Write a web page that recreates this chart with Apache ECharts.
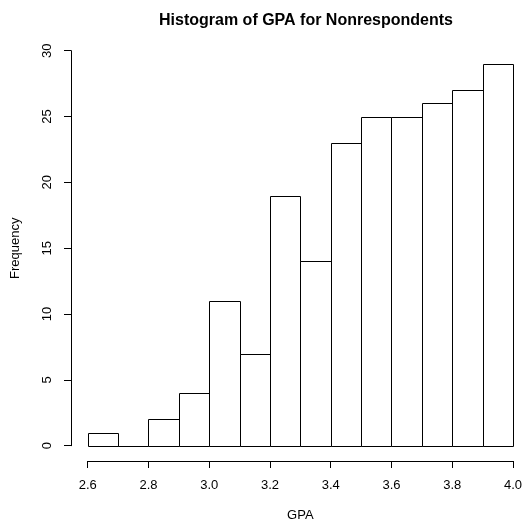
<!DOCTYPE html>
<html><head><meta charset="utf-8">
<script src="https://cdn.jsdelivr.net/npm/echarts@6/dist/echarts.min.js"></script>
<style>html,body{margin:0;padding:0;background:#fff}#c{width:525px;height:527px}</style>
</head><body><div id="c"></div>
<script>
var binStarts = [2.6, 2.7, 2.8, 2.9, 3.0, 3.1, 3.2, 3.3, 3.4, 3.5, 3.6, 3.7, 3.8, 3.9];
var binEnds   = [2.7, 2.8, 2.9, 3.0, 3.1, 3.2, 3.3, 3.4, 3.5, 3.6, 3.7, 3.8, 3.9, 4.0];
var counts    = [1, 0, 2, 4, 11, 7, 19, 14, 23, 25, 25, 26, 27, 29];
var xTicks = [2.6, 2.8, 3.0, 3.2, 3.4, 3.6, 3.8, 4.0];
var yTicks = [0, 5, 10, 15, 20, 25, 30];

var data = binStarts.map(function (s, i) { return [s, binEnds[i], counts[i]]; });
var font = 'Liberation Sans, Arial, Helvetica, sans-serif';
var chart = echarts.init(document.getElementById('c'), null, {renderer: 'canvas'});
chart.setOption({
  animation: false,
  backgroundColor: '#fff',
  title: {
    text: 'Histogram of GPA for Nonrespondents',
    left: 301, top: 8, textAlign: 'center',
    textStyle: {fontFamily: font, fontSize: 16, fontWeight: 'bold', color: '#000'}
  },
  grid: {left: 87.7, right: 9.7, top: 50.7, bottom: 80.3, containLabel: false},
  xAxis: {
    type: 'value', min: xTicks[0], max: xTicks[xTicks.length - 1], interval: 0.2,
    offset: 15.3,
    name: 'GPA', nameLocation: 'middle', nameGap: 48,
    nameTextStyle: {fontFamily: font, fontSize: 13, color: '#000'},
    axisLine: {show: true, onZero: false, lineStyle: {color: '#000', width: 1}},
    axisTick: {show: true, length: 7, lineStyle: {color: '#000', width: 1}},
    axisLabel: {fontFamily: font, fontSize: 13, color: '#000', margin: 18,
      formatter: function (v) { return v.toFixed(1); }},
    splitLine: {show: false}
  },
  yAxis: {
    type: 'value', min: yTicks[0], max: yTicks[yTicks.length - 1], interval: 5,
    offset: 16.7,
    name: 'Frequency', nameLocation: 'middle', nameGap: 49,
    nameTextStyle: {fontFamily: font, fontSize: 13, color: '#000'},
    axisLine: {show: true, onZero: false, lineStyle: {color: '#000', width: 1}},
    axisTick: {show: true, length: 7, lineStyle: {color: '#000', width: 1}},
    axisLabel: {fontFamily: font, fontSize: 13, color: '#000', margin: 17, rotate: 90},
    splitLine: {show: false}
  },
  series: [{
    type: 'custom',
    data: data,
    encode: {x: [0, 1], y: 2},
    renderItem: function (params, api) {
      var p0 = api.coord([api.value(0), 0]);
      var p1 = api.coord([api.value(1), api.value(2)]);
      var x0 = Math.round(p0[0]) + 0.5, x1 = Math.round(p1[0]) + 0.5;
      var yb = Math.round(p0[1]) + 0.5, yt = Math.round(p1[1]) + 0.5;
      return {
        type: 'polyline',
        shape: {points: [[x0, yb], [x0, yt], [x1, yt], [x1, yb], [x0, yb]]},
        style: {fill: '#fff', stroke: '#000', lineWidth: 1, lineJoin: 'bevel'}
      };
    }
  }]
});
</script></body></html>
